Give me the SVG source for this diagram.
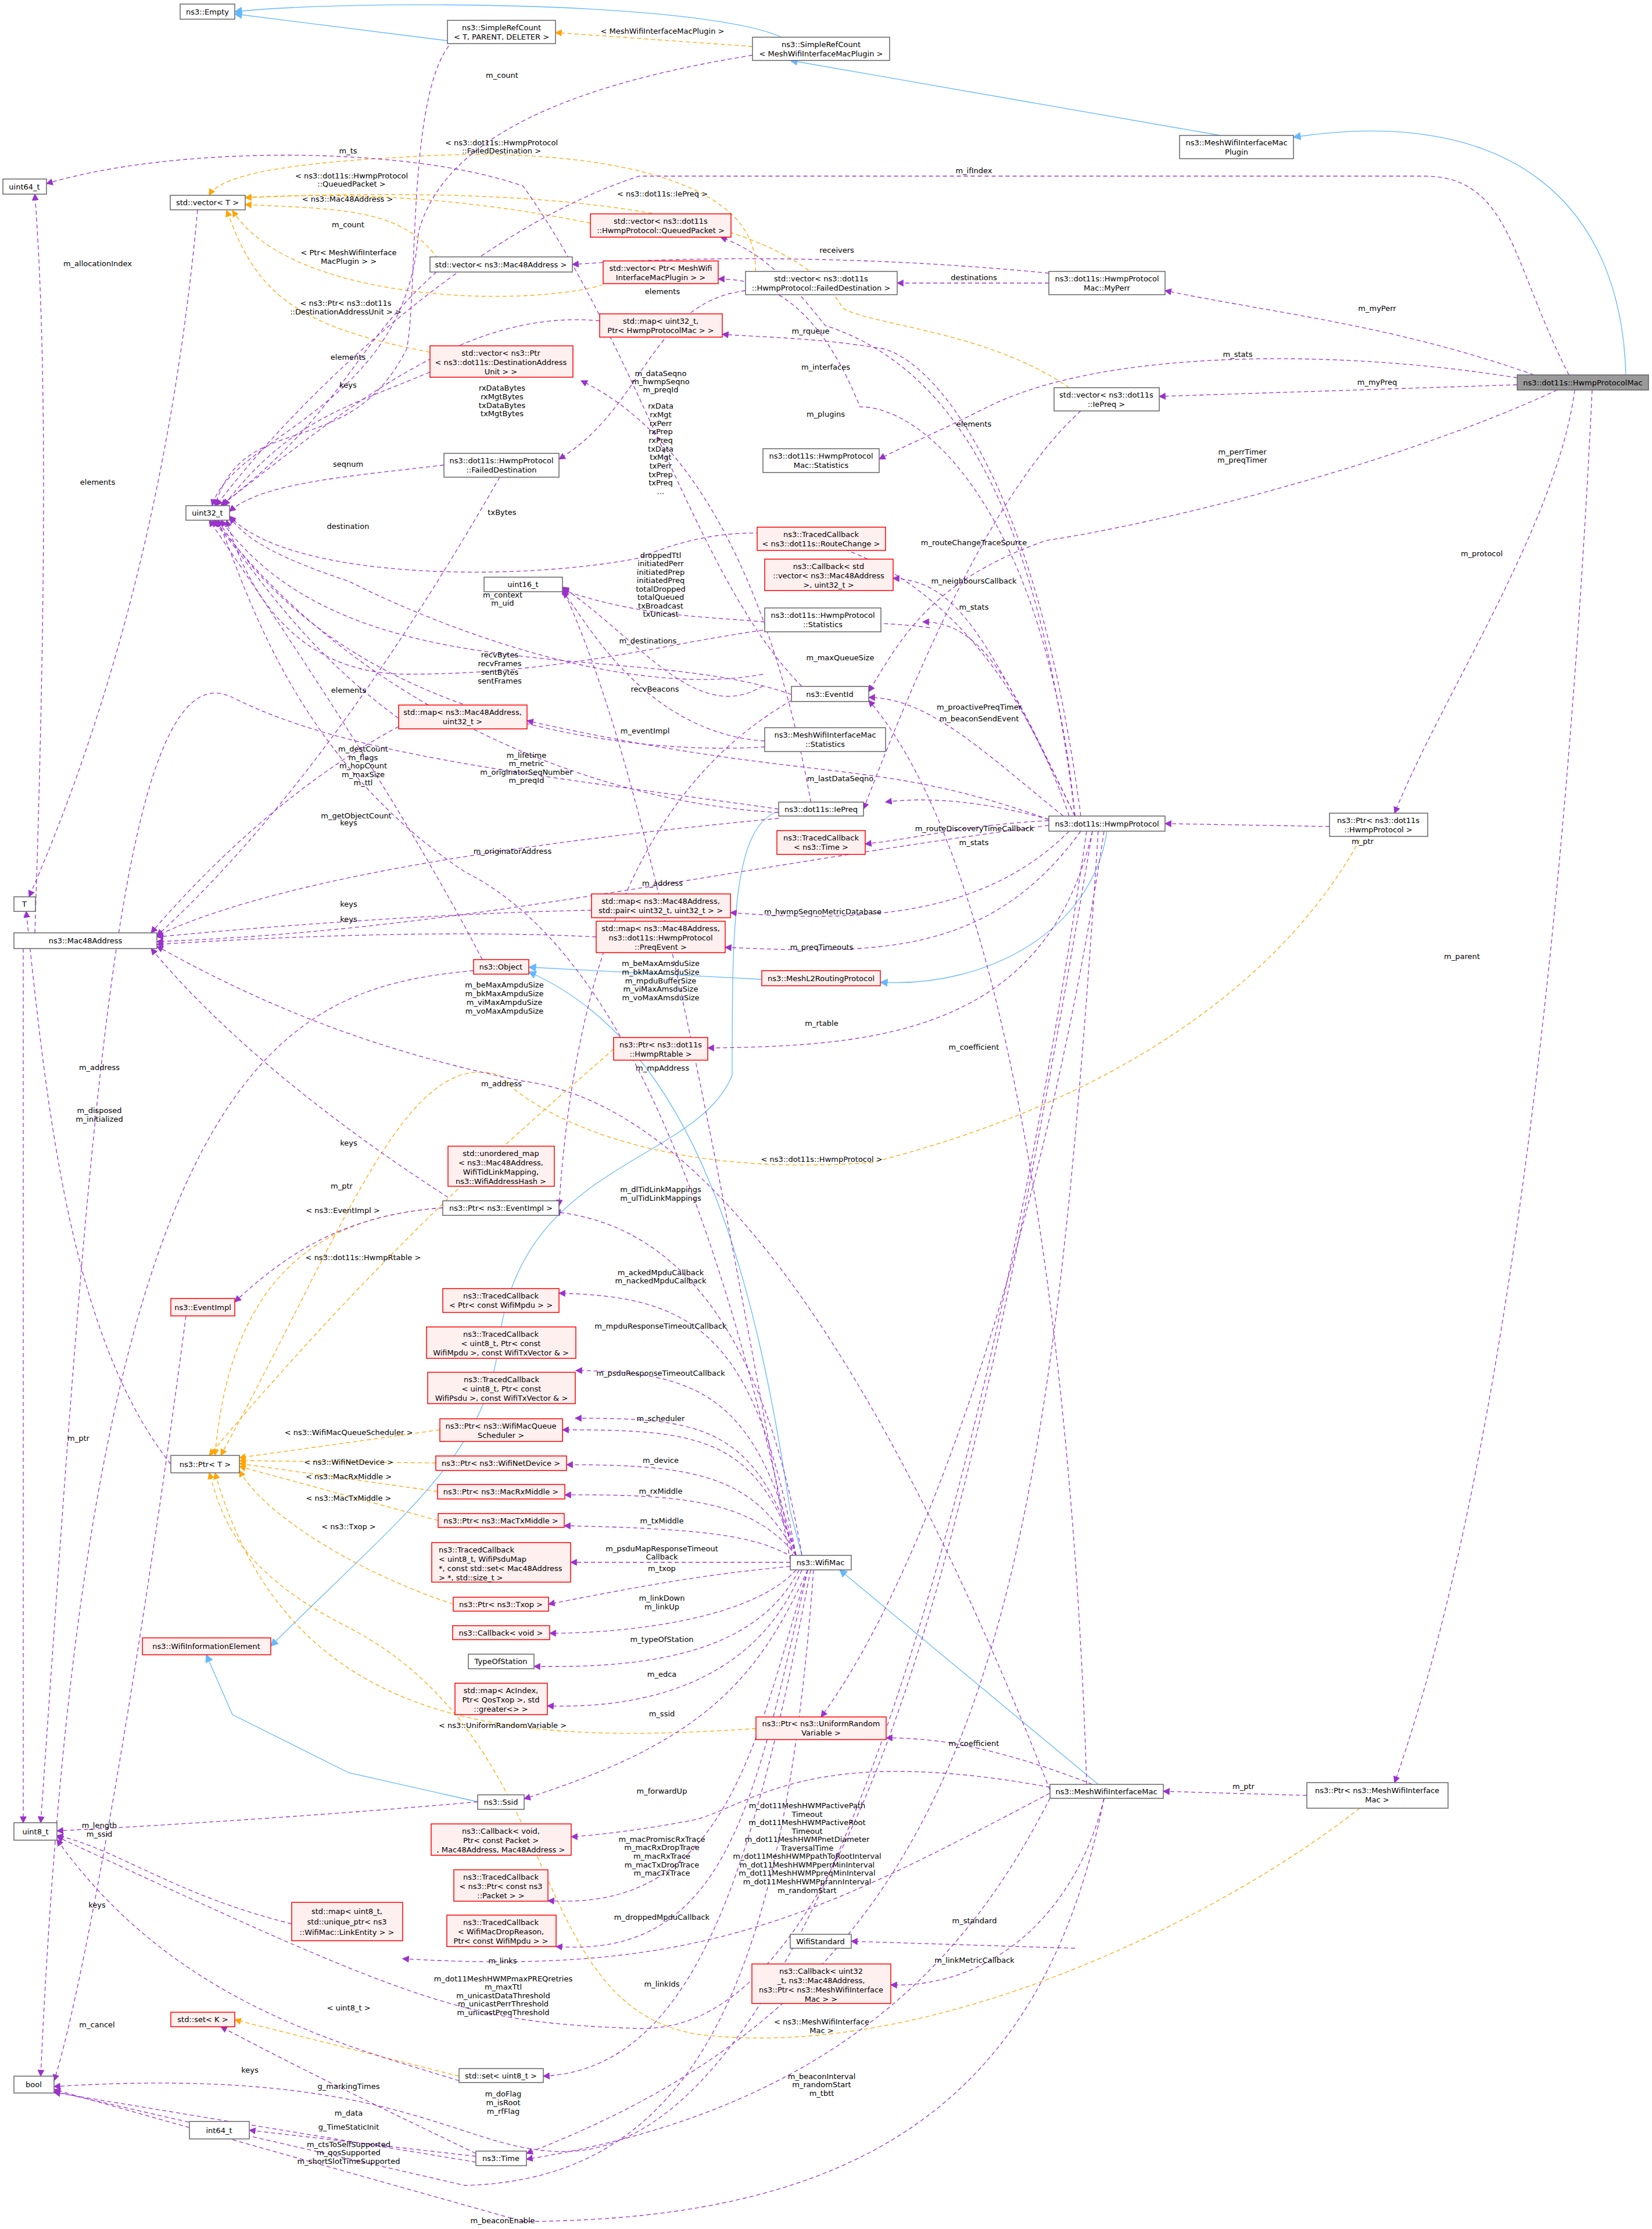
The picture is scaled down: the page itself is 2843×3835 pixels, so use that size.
<svg xmlns="http://www.w3.org/2000/svg" width="2843" height="3835" viewBox="0 0 2843 3835">
<defs>
<style>
text{font-family:"DejaVu Sans","Liberation Sans",sans-serif;font-size:13px;fill:#000}
.n{fill:#fff;stroke:#666;stroke-width:1.5}
.r{fill:#fff0f0;stroke:#f00;stroke-width:1.5}
.g{fill:#999;stroke:#666;stroke-width:1.5}
.e{fill:none;stroke:#9a32cd;stroke-width:1.3;stroke-dasharray:7,5;marker-end:url(#mp)}
.t{fill:none;stroke:#ffa500;stroke-width:1.3;stroke-dasharray:7,5;marker-end:url(#mo)}
.i{fill:none;stroke:#63b8ff;stroke-width:1.3;marker-end:url(#mb)}
.c{text-anchor:middle}
</style>
<marker id="mp" viewBox="0 0 10 10" refX="9" refY="5" markerWidth="12" markerHeight="12" orient="auto" markerUnits="userSpaceOnUse"><path d="M0,0L10,5L0,10z" fill="#9a32cd"/></marker>
<marker id="mo" viewBox="0 0 10 10" refX="9" refY="5" markerWidth="12" markerHeight="12" orient="auto" markerUnits="userSpaceOnUse"><path d="M0,0L10,5L0,10z" fill="#ffa500"/></marker>
<marker id="mb" viewBox="0 0 10 10" refX="9" refY="5" markerWidth="14" markerHeight="14" orient="auto" markerUnits="userSpaceOnUse"><path d="M0,0L10,5L0,10z" fill="#63b8ff"/></marker>
</defs>
<rect width="2843" height="3835" fill="#fff"/>
<g id="edges">
<path class="i" d="M770,70 L404,24"/>
<path class="i" d="M1345,64 C1200,0 600,0 404,20"/>
<path class="i" d="M2100,233 L1360,104"/>
<path class="i" d="M2798,645 C2790,350 2600,180 2226,236"/>
<path class="i" d="M1311,1685 L910,1664"/>
<path class="i" d="M1905,1430 C1880,1600 1700,1700 1515,1690"/>
<path class="i" d="M1380,2676 L1360,2600 C1300,2200 1200,1800 910,1672"/>
<path class="i" d="M1890,3070 L1445,2701"/>
<path class="i" d="M1340,1396 C1260,1420 1260,1600 1260,1850 C1200,2000 900,2000 860,2300 C840,2500 700,2600 466,2832"/>
<path class="i" d="M822,3100 L600,3050 L400,2950 L355,2847"/>
<path class="t" d="M1295,80 L956,56"/>
<path class="t" d="M1016,384 C800,340 600,330 422,340"/>
<path class="t" d="M760,455 C700,360 600,360 422,352"/>
<path class="t" d="M1038,490 C900,530 500,520 400,362"/>
<path class="t" d="M740,606 C500,560 440,500 390,362"/>
<path class="t" d="M1300,467 C1310,300 1000,250 700,270 C500,280 380,300 360,336"/>
<path class="t" d="M1840,667 C1700,570 1500,560 1450,530 C1350,350 900,320 422,340"/>
<path class="t" d="M1056,1805 C950,1900 700,2100 360,2504"/>
<path class="t" d="M762,2078 C600,2090 400,2150 370,2504"/>
<path class="t" d="M757,2460 L412,2508"/>
<path class="t" d="M750,2517 L412,2513"/>
<path class="t" d="M753,2566 L412,2518"/>
<path class="t" d="M754,2616 L412,2523"/>
<path class="t" d="M780,2760 C600,2700 450,2600 412,2530"/>
<path class="t" d="M1301,2974 C900,3000 500,2990 370,2534"/>
<path class="t" d="M2340,1445 C2200,1700 1900,1900 1500,2000 C1100,2030 900,1900 860,1850 C700,1800 600,2100 380,2504"/>
<path class="t" d="M2340,3111 C2100,3300 1600,3550 1200,3500 C900,3450 980,3000 600,2800 C400,2700 380,2600 360,2534"/>
<path class="t" d="M790,3572 L404,3475"/>
<path class="e" d="M780,70 C700,150 720,500 700,600 C600,800 420,700 370,870"/>
<path class="e" d="M1295,95 C950,150 760,250 720,400 C700,700 400,750 365,870"/>
<path class="e" d="M1380,1181 C1200,1000 1100,600 900,320 C700,250 300,250 80,316"/>
<path class="e" d="M2700,645 C2600,450 2600,303 2450,303 L1100,303 C800,400 500,700 372,870"/>
<path class="e" d="M1805,487 L1544,487"/>
<path class="e" d="M1805,470 C1500,440 1200,440 985,455"/>
<path class="e" d="M2640,645 C2400,560 2200,540 2005,500"/>
<path class="e" d="M2611,650 C2300,600 1900,600 1700,700 C1600,750 1550,770 1513,790"/>
<path class="e" d="M2611,662 L1995,682"/>
<path class="e" d="M2680,671 C2400,800 2000,900 1800,930 C1600,1000 1550,1100 1495,1190"/>
<path class="e" d="M2710,671 C2680,900 2480,1200 2400,1399"/>
<path class="e" d="M2740,671 C2700,1500 2600,2500 2400,3067"/>
<path class="e" d="M1860,707 C1700,850 1560,1200 1486,1392"/>
<path class="e" d="M1850,1404 C1800,1000 1700,650 1420,560 C1350,470 1300,430 1240,408"/>
<path class="e" d="M1850,1404 C1800,900 1600,700 1480,700 C1400,500 1300,480 1236,480"/>
<path class="e" d="M1860,1404 C1780,800 1600,620 1520,600 C1400,580 1300,580 1243,575"/>
<path class="e" d="M1313,1160 C1100,1200 800,1100 600,1000 C450,950 420,920 395,890"/>
<path class="e" d="M1313,1180 C1200,1250 1100,1100 968,1010"/>
<path class="e" d="M764,800 C600,820 450,830 395,880"/>
<path class="e" d="M860,821 C700,1100 500,1400 270,1610"/>
<path class="e" d="M1283,500 C1120,520 1110,700 962,790"/>
<path class="e" d="M1032,552 C800,530 600,700 380,870"/>
<path class="e" d="M740,640 C600,700 500,720 385,870"/>
<path class="e" d="M760,460 C600,600 600,700 380,870"/>
<path class="e" d="M1840,1404 C1700,1000 1400,830 1100,960 C900,1000 500,1000 395,888"/>
<path class="e" d="M1600,1080 C1300,1040 1100,1160 700,1160 C500,1160 420,1000 390,895"/>
<path class="e" d="M1316,1070 C1200,1060 1100,1060 968,1015"/>
<path class="e" d="M1362,1195 C1100,1100 600,1200 380,895"/>
<path class="e" d="M1362,1205 C1200,1300 1000,1500 962,2075"/>
<path class="e" d="M1316,1275 C1100,1260 1000,1050 968,1018"/>
<path class="e" d="M1316,1285 C1100,1300 600,1250 375,895"/>
<path class="e" d="M1400,1404 C1380,1300 1300,800 1000,655"/>
<path class="e" d="M1340,1398 C1000,1380 600,1200 370,895"/>
<path class="e" d="M1340,1392 C900,1330 600,1300 400,1200 C200,1100 150,2000 70,3136"/>
<path class="e" d="M1340,1408 C1000,1440 500,1500 270,1610"/>
<path class="e" d="M686,1236 C500,1100 420,950 365,895"/>
<path class="e" d="M686,1250 C500,1350 350,1500 260,1605"/>
<path class="e" d="M830,1651 C700,1400 500,1100 360,895"/>
<path class="e" d="M815,1670 C500,1700 150,1800 70,3572"/>
<path class="e" d="M1805,1410 C1500,1300 1400,1350 907,1240"/>
<path class="e" d="M1805,1412 C1650,1420 1600,1440 1489,1452"/>
<path class="e" d="M1805,1410 C1700,1380 1600,1370 1524,1380"/>
<path class="e" d="M1850,1404 C1700,1100 1650,1000 1537,995"/>
<path class="e" d="M1850,1404 C1750,1200 1700,1070 1588,1070"/>
<path class="e" d="M1830,1404 C1700,1300 1600,1200 1495,1200"/>
<path class="e" d="M1870,3070 C1850,2400 1750,1500 1495,1205"/>
<path class="e" d="M1805,1420 C1200,1500 800,1600 270,1620"/>
<path class="e" d="M1840,1430 C1700,1570 1500,1590 1257,1570"/>
<path class="e" d="M1860,1430 C1700,1650 1500,1640 1248,1630"/>
<path class="e" d="M1880,1430 C1800,1780 1500,1800 1218,1803"/>
<path class="e" d="M1900,1430 C1800,2100 1600,2700 1413,2954"/>
<path class="e" d="M1880,3070 C1700,3000 1600,2990 1525,2990"/>
<path class="e" d="M2288,1422 L2005,1417"/>
<path class="e" d="M2249,3089 L2002,3082"/>
<path class="e" d="M762,2078 C600,2090 500,2150 404,2240"/>
<path class="e" d="M294,2519 C120,2300 80,1900 45,1568"/>
<path class="e" d="M320,2264 C250,2800 150,3400 93,3580"/>
<path class="e" d="M60,1605 C80,1000 80,600 60,334"/>
<path class="e" d="M340,361 C300,800 200,1200 50,1543"/>
<path class="e" d="M40,1632 L40,3136"/>
<path class="e" d="M1018,1566 C800,1570 500,1590 270,1612"/>
<path class="e" d="M1026,1612 C800,1600 500,1610 270,1625"/>
<path class="e" d="M771,2060 C600,1950 400,1800 260,1632"/>
<path class="e" d="M502,3310 C300,3260 200,3180 98,3158"/>
<path class="e" d="M790,3580 C600,3520 300,3450 98,3165"/>
<path class="e" d="M822,3100 C600,3120 300,3140 98,3150"/>
<path class="e" d="M1360,2685 C1200,1800 1100,1300 968,1012"/>
<path class="e" d="M1365,2680 C1200,1900 1000,1600 800,1500 C500,1300 420,1000 375,895"/>
<path class="e" d="M1807,3080 C1500,2300 1200,1900 900,1860 C600,1800 400,1700 270,1628"/>
<path class="e" d="M1380,2676 C1300,2200 1100,2100 954,2085"/>
<path class="e" d="M1370,2676 C1300,2300 1200,2230 962,2225"/>
<path class="e" d="M1370,2676 C1300,2400 1200,2360 991,2358"/>
<path class="e" d="M1370,2676 C1300,2450 1200,2440 990,2440"/>
<path class="e" d="M1370,2676 C1300,2470 1200,2460 968,2460"/>
<path class="e" d="M1370,2676 C1300,2540 1200,2520 975,2520"/>
<path class="e" d="M1370,2676 C1300,2590 1200,2570 972,2572"/>
<path class="e" d="M1365,2680 C1300,2640 1200,2630 971,2625"/>
<path class="e" d="M1360,2688 L982,2688"/>
<path class="e" d="M1360,2695 C1200,2710 1100,2730 944,2760"/>
<path class="e" d="M1370,2701 C1300,2780 1100,2810 946,2810"/>
<path class="e" d="M1375,2701 C1300,2850 1100,2870 919,2867"/>
<path class="e" d="M1380,2701 C1300,2900 1100,2940 942,2935"/>
<path class="e" d="M1390,2701 C1300,2900 1200,3000 902,3095"/>
<path class="e" d="M1807,3075 C1400,3000 1300,3100 1200,3130 C1100,3150 1000,3160 983,3160"/>
<path class="e" d="M1390,2701 C1300,3000 1250,3290 943,3270"/>
<path class="e" d="M1390,2701 C1300,3100 1250,3370 957,3349"/>
<path class="e" d="M1807,3085 C1400,3300 1200,3400 693,3370"/>
<path class="e" d="M1880,1430 C1700,2500 1500,3500 1100,3490 C800,3480 720,3450 98,3160"/>
<path class="e" d="M1395,2701 C1300,3200 1200,3560 935,3572"/>
<path class="e" d="M1870,1430 C1700,2600 1400,3650 1000,3700 C800,3720 720,3550 93,3590"/>
<path class="e" d="M1890,1430 C1800,2800 1700,3400 906,3705"/>
<path class="e" d="M1807,3094 C1700,3300 1500,3620 906,3715"/>
<path class="e" d="M1850,3352 L1465,3340"/>
<path class="e" d="M1900,3094 C1850,3300 1700,3420 1533,3415"/>
<path class="e" d="M1900,3094 C1800,3600 1500,3820 900,3822 L93,3595"/>
<path class="e" d="M819,3710 L429,3665"/>
<path class="e" d="M819,3705 C600,3600 500,3550 380,3487"/>
<path class="e" d="M819,3720 L93,3600"/>
<path class="e" d="M1400,2701 C1350,3400 1200,3750 800,3760 L93,3598"/>
</g>
<g id="n1"><rect class="n" x="310" y="7" width="94" height="26"/><text x="357" y="25" class="c">ns3::Empty</text></g>
<g id="n2"><rect class="n" x="770" y="35" width="186" height="40"/><text x="863" y="52" class="c">ns3::SimpleRefCount</text><text x="863" y="68" class="c">&lt; T, PARENT, DELETER &gt;</text></g>
<g id="n3"><rect class="n" x="1295" y="64" width="236" height="40"/><text x="1413" y="81" class="c">ns3::SimpleRefCount</text><text x="1413" y="97" class="c">&lt; MeshWifiInterfaceMacPlugin &gt;</text></g>
<g id="n4"><rect class="n" x="2030" y="233" width="196" height="40"/><text x="2128" y="250" class="c">ns3::MeshWifiInterfaceMac</text><text x="2128" y="266" class="c">Plugin</text></g>
<g id="n5"><rect class="g" x="2611" y="645" width="226" height="26"/><text x="2724" y="663" class="c">ns3::dot11s::HwmpProtocolMac</text></g>
<g id="n6"><rect class="n" x="5" y="308" width="75" height="26"/><text x="42" y="326" class="c">uint64_t</text></g>
<g id="n7"><rect class="n" x="293" y="336" width="129" height="25"/><text x="357" y="353" class="c">std::vector&lt; T &gt;</text></g>
<g id="n8"><rect class="r" x="1016" y="368" width="242" height="40"/><text x="1137" y="385" class="c">std::vector&lt; ns3::dot11s</text><text x="1137" y="401" class="c">::HwmpProtocol::QueuedPacket &gt;</text></g>
<g id="n9"><rect class="n" x="740" y="442" width="245" height="26"/><text x="862" y="460" class="c">std::vector&lt; ns3::Mac48Address &gt;</text></g>
<g id="n10"><rect class="r" x="1038" y="449" width="198" height="39"/><text x="1137" y="466" class="c">std::vector&lt; Ptr&lt; MeshWifi</text><text x="1137" y="482" class="c">InterfaceMacPlugin &gt; &gt;</text></g>
<g id="n11"><rect class="n" x="1283" y="467" width="261" height="40"/><text x="1413" y="484" class="c">std::vector&lt; ns3::dot11s</text><text x="1413" y="500" class="c">::HwmpProtocol::FailedDestination &gt;</text></g>
<g id="n12"><rect class="n" x="1805" y="467" width="200" height="40"/><text x="1905" y="484" class="c">ns3::dot11s::HwmpProtocol</text><text x="1905" y="500" class="c">Mac::MyPerr</text></g>
<g id="n13"><rect class="r" x="1032" y="540" width="211" height="40"/><text x="1137" y="557" class="c">std::map&lt; uint32_t,</text><text x="1137" y="573" class="c">Ptr&lt; HwmpProtocolMac &gt; &gt;</text></g>
<g id="n14"><rect class="r" x="740" y="595" width="246" height="54"/><text x="862" y="612" class="c">std::vector&lt; ns3::Ptr</text><text x="862" y="628" class="c">&lt; ns3::dot11s::DestinationAddress</text><text x="862" y="644" class="c">Unit &gt; &gt;</text></g>
<g id="n15"><rect class="n" x="1814" y="667" width="181" height="40"/><text x="1904" y="684" class="c">std::vector&lt; ns3::dot11s</text><text x="1904" y="700" class="c">::IePreq &gt;</text></g>
<g id="n16"><rect class="n" x="1313" y="772" width="200" height="41"/><text x="1413" y="789" class="c">ns3::dot11s::HwmpProtocol</text><text x="1413" y="805" class="c">Mac::Statistics</text></g>
<g id="n17"><rect class="n" x="764" y="780" width="198" height="41"/><text x="863" y="797" class="c">ns3::dot11s::HwmpProtocol</text><text x="863" y="813" class="c">::FailedDestination</text></g>
<g id="n18"><rect class="n" x="320" y="870" width="75" height="25"/><text x="357" y="887" class="c">uint32_t</text></g>
<g id="n19"><rect class="r" x="1303" y="907" width="221" height="40"/><text x="1413" y="924" class="c">ns3::TracedCallback</text><text x="1413" y="940" class="c">&lt; ns3::dot11s::RouteChange &gt;</text></g>
<g id="n20"><rect class="r" x="1316" y="962" width="221" height="54"/><text x="1426" y="979" class="c">ns3::Callback&lt; std</text><text x="1426" y="995" class="c">::vector&lt; ns3::Mac48Address</text><text x="1426" y="1011" class="c">&gt;, uint32_t &gt;</text></g>
<g id="n21"><rect class="n" x="833" y="993" width="135" height="25"/><text x="900" y="1010" class="c">uint16_t</text></g>
<g id="n22"><rect class="n" x="1316" y="1046" width="200" height="41"/><text x="1416" y="1063" class="c">ns3::dot11s::HwmpProtocol</text><text x="1416" y="1079" class="c">::Statistics</text></g>
<g id="n23"><rect class="n" x="1362" y="1181" width="133" height="26"/><text x="1428" y="1199" class="c">ns3::EventId</text></g>
<g id="n24"><rect class="r" x="686" y="1213" width="221" height="41"/><text x="796" y="1230" class="c">std::map&lt; ns3::Mac48Address,</text><text x="796" y="1246" class="c">uint32_t &gt;</text></g>
<g id="n25"><rect class="n" x="1316" y="1252" width="208" height="41"/><text x="1420" y="1269" class="c">ns3::MeshWifiInterfaceMac</text><text x="1420" y="1285" class="c">::Statistics</text></g>
<g id="n26"><rect class="n" x="1340" y="1380" width="146" height="24"/><text x="1413" y="1397" class="c">ns3::dot11s::IePreq</text></g>
<g id="n27"><rect class="n" x="1805" y="1404" width="200" height="26"/><text x="1905" y="1422" class="c">ns3::dot11s::HwmpProtocol</text></g>
<g id="n28"><rect class="n" x="2288" y="1399" width="169" height="40"/><text x="2372" y="1416" class="c">ns3::Ptr&lt; ns3::dot11s</text><text x="2372" y="1432" class="c">::HwmpProtocol &gt;</text></g>
<g id="n29"><rect class="r" x="1337" y="1429" width="152" height="41"/><text x="1413" y="1446" class="c">ns3::TracedCallback</text><text x="1413" y="1462" class="c">&lt; ns3::Time &gt;</text></g>
<g id="n30"><rect class="n" x="24" y="1543" width="37" height="25"/><text x="42" y="1560" class="c">T</text></g>
<g id="n31"><rect class="r" x="1018" y="1538" width="239" height="41"/><text x="1137" y="1555" class="c">std::map&lt; ns3::Mac48Address,</text><text x="1137" y="1571" class="c">std::pair&lt; uint32_t, uint32_t &gt; &gt;</text></g>
<g id="n32"><rect class="r" x="1026" y="1585" width="222" height="54"/><text x="1137" y="1602" class="c">std::map&lt; ns3::Mac48Address,</text><text x="1137" y="1618" class="c">ns3::dot11s::HwmpProtocol</text><text x="1137" y="1634" class="c">::PreqEvent &gt;</text></g>
<g id="n33"><rect class="n" x="24" y="1605" width="246" height="27"/><text x="147" y="1623" class="c">ns3::Mac48Address</text></g>
<g id="n34"><rect class="r" x="815" y="1651" width="95" height="25"/><text x="862" y="1668" class="c">ns3::Object</text></g>
<g id="n35"><rect class="r" x="1311" y="1670" width="204" height="26"/><text x="1413" y="1688" class="c">ns3::MeshL2RoutingProtocol</text></g>
<g id="n36"><rect class="r" x="1056" y="1785" width="162" height="39"/><text x="1137" y="1802" class="c">ns3::Ptr&lt; ns3::dot11s</text><text x="1137" y="1818" class="c">::HwmpRtable &gt;</text></g>
<g id="n37"><rect class="r" x="771" y="1972" width="183" height="69"/><text x="862" y="1989" class="c">std::unordered_map</text><text x="862" y="2005" class="c">&lt; ns3::Mac48Address,</text><text x="862" y="2021" class="c">WifiTidLinkMapping,</text><text x="862" y="2037" class="c">ns3::WifiAddressHash &gt;</text></g>
<g id="n38"><rect class="n" x="762" y="2066" width="200" height="25"/><text x="862" y="2083" class="c">ns3::Ptr&lt; ns3::EventImpl &gt;</text></g>
<g id="n39"><rect class="r" x="294" y="2234" width="110" height="30"/><text x="349" y="2254" class="c">ns3::EventImpl</text></g>
<g id="n40"><rect class="r" x="762" y="2217" width="200" height="41"/><text x="862" y="2234" class="c">ns3::TracedCallback</text><text x="862" y="2250" class="c">&lt; Ptr&lt; const WifiMpdu &gt; &gt;</text></g>
<g id="n41"><rect class="r" x="734" y="2283" width="257" height="54"/><text x="862" y="2300" class="c">ns3::TracedCallback</text><text x="862" y="2316" class="c">&lt; uint8_t, Ptr&lt; const</text><text x="862" y="2332" class="c">WifiMpdu &gt;, const WifiTxVector &amp; &gt;</text></g>
<g id="n42"><rect class="r" x="736" y="2361" width="254" height="54"/><text x="863" y="2378" class="c">ns3::TracedCallback</text><text x="863" y="2394" class="c">&lt; uint8_t, Ptr&lt; const</text><text x="863" y="2410" class="c">WifiPsdu &gt;, const WifiTxVector &amp; &gt;</text></g>
<g id="n43"><rect class="r" x="757" y="2441" width="211" height="39"/><text x="862" y="2458" class="c">ns3::Ptr&lt; ns3::WifiMacQueue</text><text x="862" y="2474" class="c">Scheduler &gt;</text></g>
<g id="n44"><rect class="n" x="294" y="2504" width="118" height="30"/><text x="353" y="2524" class="c">ns3::Ptr&lt; T &gt;</text></g>
<g id="n45"><rect class="r" x="750" y="2505" width="225" height="25"/><text x="862" y="2522" class="c">ns3::Ptr&lt; ns3::WifiNetDevice &gt;</text></g>
<g id="n46"><rect class="r" x="753" y="2554" width="219" height="25"/><text x="862" y="2571" class="c">ns3::Ptr&lt; ns3::MacRxMiddle &gt;</text></g>
<g id="n47"><rect class="r" x="754" y="2604" width="217" height="24"/><text x="862" y="2621" class="c">ns3::Ptr&lt; ns3::MacTxMiddle &gt;</text></g>
<g id="n48"><rect class="r" x="743" y="2654" width="239" height="68"/><text x="755" y="2671">ns3::TracedCallback</text><text x="755" y="2687">&lt; uint8_t, WifiPsduMap</text><text x="755" y="2703"> *, const std::set&lt; Mac48Address</text><text x="755" y="2719"> &gt; *, std::size_t &gt;</text></g>
<g id="n49"><rect class="n" x="1360" y="2676" width="105" height="25"/><text x="1412" y="2693" class="c">ns3::WifiMac</text></g>
<g id="n50"><rect class="r" x="780" y="2748" width="164" height="24"/><text x="862" y="2765" class="c">ns3::Ptr&lt; ns3::Txop &gt;</text></g>
<g id="n51"><rect class="r" x="779" y="2797" width="167" height="24"/><text x="862" y="2814" class="c">ns3::Callback&lt; void &gt;</text></g>
<g id="n52"><rect class="r" x="245" y="2818" width="221" height="29"/><text x="355" y="2837" class="c">ns3::WifiInformationElement</text></g>
<g id="n53"><rect class="n" x="806" y="2846" width="113" height="25"/><text x="862" y="2863" class="c">TypeOfStation</text></g>
<g id="n54"><rect class="r" x="783" y="2896" width="159" height="54"/><text x="862" y="2913" class="c">std::map&lt; AcIndex,</text><text x="862" y="2929" class="c">Ptr&lt; QosTxop &gt;, std</text><text x="862" y="2945" class="c">::greater&lt;&gt; &gt;</text></g>
<g id="n55"><rect class="r" x="1301" y="2954" width="224" height="39"/><text x="1413" y="2970" class="c">ns3::Ptr&lt; ns3::UniformRandom</text><text x="1413" y="2986" class="c">Variable &gt;</text></g>
<g id="n56"><rect class="n" x="1807" y="3070" width="195" height="24"/><text x="1904" y="3087" class="c">ns3::MeshWifiInterfaceMac</text></g>
<g id="n57"><rect class="n" x="2249" y="3067" width="243" height="44"/><text x="2370" y="3085" class="c">ns3::Ptr&lt; ns3::MeshWifiInterface</text><text x="2370" y="3101" class="c">Mac &gt;</text></g>
<g id="n58"><rect class="n" x="822" y="3088" width="80" height="25"/><text x="862" y="3105" class="c">ns3::Ssid</text></g>
<g id="n59"><rect class="n" x="24" y="3136" width="74" height="30"/><text x="61" y="3156" class="c">uint8_t</text></g>
<g id="n60"><rect class="r" x="742" y="3138" width="241" height="54"/><text x="862" y="3155" class="c">ns3::Callback&lt; void,</text><text x="862" y="3171" class="c">Ptr&lt; const Packet &gt;</text><text x="862" y="3187" class="c">, Mac48Address, Mac48Address &gt;</text></g>
<g id="n61"><rect class="r" x="781" y="3217" width="162" height="54"/><text x="862" y="3234" class="c">ns3::TracedCallback</text><text x="862" y="3250" class="c">&lt; ns3::Ptr&lt; const ns3</text><text x="862" y="3266" class="c">::Packet &gt; &gt;</text></g>
<g id="n62"><rect class="r" x="502" y="3273" width="191" height="66"/><text x="597" y="3293" class="c">std::map&lt; uint8_t,</text><text x="597" y="3311" class="c">std::unique_ptr&lt; ns3</text><text x="597" y="3329" class="c">::WifiMac::LinkEntity &gt; &gt;</text></g>
<g id="n63"><rect class="r" x="769" y="3295" width="188" height="54"/><text x="862" y="3312" class="c">ns3::TracedCallback</text><text x="862" y="3328" class="c">&lt; WifiMacDropReason,</text><text x="862" y="3344" class="c">Ptr&lt; const WifiMpdu &gt; &gt;</text></g>
<g id="n64"><rect class="n" x="1360" y="3328" width="105" height="24"/><text x="1412" y="3345" class="c">WifiStandard</text></g>
<g id="n65"><rect class="r" x="1294" y="3379" width="239" height="68"/><text x="1413" y="3396" class="c">ns3::Callback&lt; uint32</text><text x="1413" y="3412" class="c">_t, ns3::Mac48Address,</text><text x="1413" y="3428" class="c">ns3::Ptr&lt; ns3::MeshWifiInterface</text><text x="1413" y="3444" class="c">Mac &gt; &gt;</text></g>
<g id="n66"><rect class="r" x="294" y="3462" width="110" height="25"/><text x="349" y="3479" class="c">std::set&lt; K &gt;</text></g>
<g id="n67"><rect class="n" x="790" y="3559" width="145" height="24"/><text x="862" y="3576" class="c">std::set&lt; uint8_t &gt;</text></g>
<g id="n68"><rect class="n" x="24" y="3572" width="69" height="29"/><text x="58" y="3591" class="c">bool</text></g>
<g id="n69"><rect class="n" x="326" y="3650" width="103" height="30"/><text x="377" y="3670" class="c">int64_t</text></g>
<g id="n70"><rect class="n" x="819" y="3701" width="87" height="25"/><text x="862" y="3718" class="c">ns3::Time</text></g>
<g id="labels" class="c">
<text x="1140" y="58">&lt; MeshWifiInterfaceMacPlugin &gt;</text>
<text x="864" y="134">m_count</text>
<text x="599" y="391">m_count</text>
<text x="863" y="250">&lt; ns3::dot11s::HwmpProtocol</text><text x="863" y="264">::FailedDestination &gt;</text>
<text x="599" y="264">m_ts</text>
<text x="1676" y="298">m_ifIndex</text>
<text x="605" y="307">&lt; ns3::dot11s::HwmpProtocol</text><text x="605" y="321">::QueuedPacket &gt;</text>
<text x="1140" y="338">&lt; ns3::dot11s::IePreq &gt;</text>
<text x="598" y="347">&lt; ns3::Mac48Address &gt;</text>
<text x="168" y="458">m_allocationIndex</text>
<text x="1440" y="435">receivers</text>
<text x="600" y="439">&lt; Ptr&lt; MeshWifiInterface</text><text x="600" y="454">MacPlugin &gt; &gt;</text>
<text x="1676" y="482">destinations</text>
<text x="1140" y="506">elements</text>
<text x="2370" y="535">m_myPerr</text>
<text x="595" y="526">&lt; ns3::Ptr&lt; ns3::dot11s</text><text x="595" y="541">::DestinationAddressUnit &gt; &gt;</text>
<text x="1395" y="574">m_rqueue</text>
<text x="2130" y="614">m_stats</text>
<text x="599" y="619">elements</text>
<text x="1421" y="636">m_interfaces</text>
<text x="1137" y="647">m_dataSeqno</text><text x="1137" y="661">m_hwmpSeqno</text><text x="1137" y="675">m_preqId</text>
<text x="2370" y="662">m_myPreq</text>
<text x="599" y="667">keys</text>
<text x="864" y="672">rxDataBytes</text><text x="864" y="687">rxMgtBytes</text><text x="864" y="702">txDataBytes</text><text x="864" y="716">txMgtBytes</text>
<text x="1137" y="703">rxData</text><text x="1137" y="718">rxMgt</text><text x="1137" y="733">rxPerr</text><text x="1137" y="747">rxPrep</text><text x="1137" y="762">rxPreq</text><text x="1137" y="777">txData</text><text x="1137" y="791">txMgt</text><text x="1137" y="806">txPerr</text><text x="1137" y="821">txPrep</text><text x="1137" y="835">txPreq</text><text x="1137" y="850">...</text>
<text x="1421" y="717">m_plugins</text>
<text x="1676" y="734">elements</text>
<text x="2138" y="782">m_perrTimer</text><text x="2138" y="796">m_preqTimer</text>
<text x="599" y="803">seqnum</text>
<text x="168" y="834">elements</text>
<text x="864" y="886">txBytes</text>
<text x="599" y="910">destination</text>
<text x="1676" y="938">m_routeChangeTraceSource</text>
<text x="2550" y="957">m_protocol</text>
<text x="1137" y="960">droppedTtl</text><text x="1137" y="974">initiatedPerr</text><text x="1137" y="989">initiatedPrep</text><text x="1137" y="1003">initiatedPreq</text><text x="1137" y="1018">totalDropped</text><text x="1137" y="1032">totalQueued</text><text x="1137" y="1047">txBroadcast</text><text x="1137" y="1061">txUnicast</text>
<text x="1676" y="1004">m_neighboursCallback</text>
<text x="865" y="1028">m_context</text><text x="865" y="1042">m_uid</text>
<text x="1676" y="1049">m_stats</text>
<text x="1115" y="1107">m_destinations</text>
<text x="1446" y="1136">m_maxQueueSize</text>
<text x="860" y="1131">recvBytes</text><text x="860" y="1146">recvFrames</text><text x="860" y="1161">sentBytes</text><text x="860" y="1176">sentFrames</text>
<text x="1127" y="1190">recvBeacons</text>
<text x="600" y="1192">elements</text>
<text x="1685" y="1221">m_proactivePreqTimer</text>
<text x="1685" y="1241">m_beaconSendEvent</text>
<text x="1110" y="1262">m_eventImpl</text>
<text x="625" y="1293">m_destCount</text><text x="625" y="1308">m_flags</text><text x="625" y="1322">m_hopCount</text><text x="625" y="1337">m_maxSize</text><text x="625" y="1351">m_ttl</text>
<text x="906" y="1304">m_lifetime</text><text x="906" y="1318">m_metric</text><text x="906" y="1333">m_originatorSeqNumber</text><text x="906" y="1347">m_preqId</text>
<text x="1446" y="1344">m_lastDataSeqno</text>
<text x="613" y="1408">m_getObjectCount</text>
<text x="600" y="1420">keys</text>
<text x="2345" y="1452">m_ptr</text>
<text x="1677" y="1430">m_routeDiscoveryTimeCallback</text>
<text x="1676" y="1454">m_stats</text>
<text x="882" y="1469">m_originatorAddress</text>
<text x="1140" y="1524">m_address</text>
<text x="1416" y="1573">m_hwmpSeqnoMetricDatabase</text>
<text x="600" y="1560">keys</text><text x="600" y="1586">keys</text>
<text x="1414" y="1634">m_preqTimeouts</text>
<text x="2516" y="1650">m_parent</text>
<text x="1137" y="1662">m_beMaxAmsduSize</text><text x="1137" y="1677">m_bkMaxAmsduSize</text><text x="1137" y="1692">m_mpduBufferSize</text><text x="1137" y="1706">m_viMaxAmsduSize</text><text x="1137" y="1721">m_voMaxAmsduSize</text>
<text x="868" y="1699">m_beMaxAmpduSize</text><text x="868" y="1714">m_bkMaxAmpduSize</text><text x="868" y="1729">m_viMaxAmpduSize</text><text x="868" y="1744">m_voMaxAmpduSize</text>
<text x="1414" y="1765">m_rtable</text>
<text x="1676" y="1806">m_coefficient</text>
<text x="1140" y="1842">m_mpAddress</text>
<text x="171" y="1841">m_address</text>
<text x="863" y="1869">m_address</text>
<text x="171" y="1915">m_disposed</text><text x="171" y="1930">m_initialized</text>
<text x="600" y="1971">keys</text>
<text x="1414" y="1999">&lt; ns3::dot11s::HwmpProtocol &gt;</text>
<text x="588" y="2045">m_ptr</text>
<text x="1137" y="2051">m_dlTidLinkMappings</text><text x="1137" y="2066">m_ulTidLinkMappings</text>
<text x="590" y="2087">&lt; ns3::EventImpl &gt;</text>
<text x="625" y="2168">&lt; ns3::dot11s::HwmpRtable &gt;</text>
<text x="1137" y="2194">m_ackedMpduCallback</text><text x="1137" y="2208">m_nackedMpduCallback</text>
<text x="1137" y="2286">m_mpduResponseTimeoutCallback</text>
<text x="1137" y="2367">m_psduResponseTimeoutCallback</text>
<text x="1137" y="2445">m_scheduler</text>
<text x="600" y="2469">&lt; ns3::WifiMacQueueScheduler &gt;</text>
<text x="135" y="2479">m_ptr</text>
<text x="1137" y="2517">m_device</text>
<text x="600" y="2520">&lt; ns3::WifiNetDevice &gt;</text>
<text x="600" y="2545">&lt; ns3::MacRxMiddle &gt;</text>
<text x="1137" y="2570">m_rxMiddle</text>
<text x="600" y="2582">&lt; ns3::MacTxMiddle &gt;</text>
<text x="1139" y="2621">m_txMiddle</text>
<text x="600" y="2631">&lt; ns3::Txop &gt;</text>
<text x="1139" y="2669">m_psduMapResponseTimeout</text><text x="1139" y="2683">Callback</text>
<text x="1139" y="2703">m_txop</text>
<text x="1139" y="2754">m_linkDown</text><text x="1139" y="2769">m_linkUp</text>
<text x="1139" y="2825">m_typeOfStation</text>
<text x="1139" y="2885">m_edca</text>
<text x="1139" y="2953">m_ssid</text>
<text x="865" y="2973">&lt; ns3::UniformRandomVariable &gt;</text>
<text x="1676" y="3004">m_coefficient</text>
<text x="2140" y="3078">m_ptr</text>
<text x="1139" y="3086">m_forwardUp</text>
<text x="1389" y="3111">m_dot11MeshHWMPactivePath</text><text x="1389" y="3126">Timeout</text><text x="1389" y="3140">m_dot11MeshHWMPactiveRoot</text><text x="1389" y="3155">Timeout</text><text x="1389" y="3169">m_dot11MeshHWMPnetDiameter</text><text x="1389" y="3184">TraversalTime</text><text x="1389" y="3198">m_dot11MeshHWMPpathToRootInterval</text><text x="1389" y="3213">m_dot11MeshHWMPperrMinInterval</text><text x="1389" y="3227">m_dot11MeshHWMPpreqMinInterval</text><text x="1389" y="3242">m_dot11MeshHWMPprannInterval</text><text x="1389" y="3257">m_randomStart</text>
<text x="171" y="3145">m_length</text><text x="171" y="3160">m_ssid</text>
<text x="1139" y="3169">m_macPromiscRxTrace</text><text x="1139" y="3183">m_macRxDropTrace</text><text x="1139" y="3198">m_macRxTrace</text><text x="1139" y="3213">m_macTxDropTrace</text><text x="1139" y="3227">m_macTxTrace</text>
<text x="167" y="3282">keys</text>
<text x="1139" y="3303">m_droppedMpduCallback</text>
<text x="1677" y="3309">m_standard</text>
<text x="865" y="3378">m_links</text>
<text x="1677" y="3377">m_linkMetricCallback</text>
<text x="866" y="3409">m_dot11MeshHWMPmaxPREQretries</text><text x="866" y="3423">m_maxTtl</text><text x="866" y="3438">m_unicastDataThreshold</text><text x="866" y="3452">m_unicastPerrThreshold</text><text x="866" y="3467">m_unicastPreqThreshold</text>
<text x="1139" y="3418">m_linkIds</text>
<text x="600" y="3459">&lt; uint8_t &gt;</text>
<text x="1414" y="3483">&lt; ns3::MeshWifiInterface</text><text x="1414" y="3498">Mac &gt;</text>
<text x="167" y="3488">m_cancel</text>
<text x="430" y="3566">keys</text>
<text x="1414" y="3577">m_beaconInterval</text><text x="1414" y="3591">m_randomStart</text><text x="1414" y="3606">m_tbtt</text>
<text x="600" y="3594">g_markingTimes</text>
<text x="866" y="3607">m_doFlag</text><text x="866" y="3622">m_isRoot</text><text x="866" y="3637">m_rfFlag</text>
<text x="600" y="3640">m_data</text>
<text x="600" y="3664">g_TimeStaticInit</text>
<text x="600" y="3694">m_ctsToSelfSupported</text><text x="600" y="3708">m_qosSupported</text><text x="600" y="3723">m_shortSlotTimeSupported</text>
<text x="865" y="3825">m_beaconEnable</text>
</g>
</svg>
